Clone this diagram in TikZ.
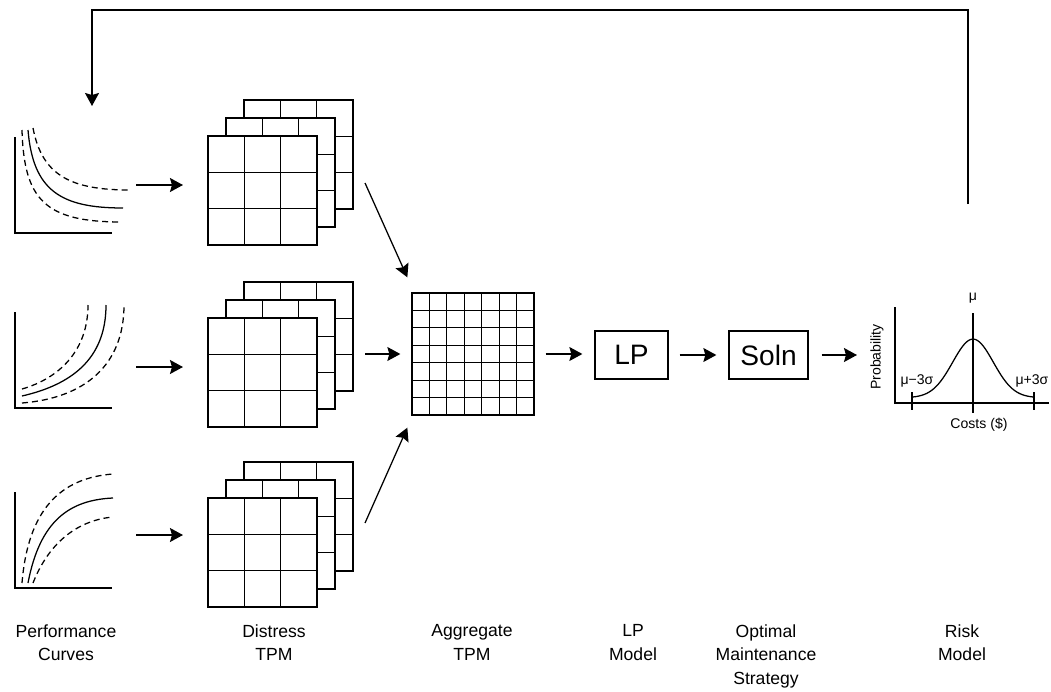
\documentclass[tikz,border=0pt]{standalone}
\usepackage{fontspec}
\setmainfont{Liberation Sans}
\usetikzlibrary{arrows.meta}
\newlength\pu
\setlength\pu{0.025cm}
\begin{document}
\begin{tikzpicture}[x=0.025cm,y=-0.025cm, line width=0.9pt,
  arr/.style={-{Stealth[length=0.325cm,width=0.35cm,inset=0.05cm]}},
  dsh/.style={dash pattern=on 0.15cm off 0.1cm},
  lbl/.style={font=\fontsize{12.5}{16.7}\selectfont, align=center, anchor=north, inner sep=0pt},
  small/.style={font=\fontsize{10}{12}\selectfont, inner sep=0pt},
  boxed/.style={draw, minimum height=1.2cm, inner sep=0pt, font=\fontsize{20}{24}\selectfont},
  region/.style={inner sep=0pt, outer sep=0pt, draw=none},
  pics/tpmlayer/.style={code={
    \fill[white] (0,0) rectangle (109,109);
    \foreach \k in {1,2}{
      \draw ({\k*109/3},0) -- ({\k*109/3},109);
      \draw (0,{\k*109/3}) -- (109,{\k*109/3});
    }
    \draw (0,0) rectangle (109,109);
  }}
]
\useasboundingbox (0,0) rectangle (1051,691);
\fill[white] (0,0) rectangle (1051,691);

% ---------- performance curves ----------
\node[region, minimum width=2.875cm, minimum height=2.4cm] (pc1) at (72.5,185) {};
\node[region, minimum width=2.875cm, minimum height=2.05cm] (pc2) at (72.5,367) {};
\node[region, minimum width=2.875cm, minimum height=2.65cm] (pc3) at (72.5,535) {};

\draw (15,137) -- (15,233) -- (112,233);
\draw (28,130) .. controls (33,190) and (60,208) .. (123,208);
\draw[dsh] (22,130) .. controls (24,200) and (45,222) .. (122,222);
\draw[dsh] (33,128) .. controls (42,175) and (70,190) .. (130,190);

\draw (15,312) -- (15,408) -- (112,408);
\draw (22,396) .. controls (70,385) and (106,360) .. (106,305);
\draw[dsh] (22,389) .. controls (60,378) and (88,350) .. (88,305);
\draw[dsh] (22,403) .. controls (85,398) and (124,365) .. (124,305);

\draw (15,492) -- (15,588) -- (112,588);
\draw (28,583) .. controls (40,520) and (70,500) .. (113,498);
\draw[dsh] (22,583) .. controls (28,510) and (60,478) .. (113,474);
\draw[dsh] (33,583) .. controls (50,540) and (80,520) .. (113,517);

% ---------- distress TPM stacks ----------
\foreach \yy in {136,318,498}{
  \pic at (244,\yy-36) {tpmlayer};
  \pic at (226,\yy-18) {tpmlayer};
  \pic at (208,\yy) {tpmlayer};
}
\node[region, minimum width=3.625cm, minimum height=3.65cm] (tpm1) at (280.5,172) {};
\node[region, minimum width=3.625cm, minimum height=3.625cm] (tpm2) at (280.5,354.5) {};
\node[region, minimum width=3.625cm, minimum height=3.625cm] (tpm3) at (280.5,534.5) {};

% ---------- aggregate TPM ----------
\node[draw, minimum size=3.05cm, inner sep=0pt] (agg) at (473,354) {};
\foreach \k in {1,...,6}{
  \draw ({412+\k*122/7},293) -- ({412+\k*122/7},415);
  \draw (412,{293+\k*122/7}) -- (534,{293+\k*122/7});
}

% ---------- LP and Soln ----------
\node[boxed, minimum width=1.825cm] (lp) at (631.5,355) {LP};
\node[boxed, minimum width=1.975cm] (soln) at (768.5,355) {Soln};

% ---------- risk model ----------
\node[region, minimum width=4.475cm, minimum height=3.5cm] (risk) at (959.5,360) {};
\draw (895,307) -- (895,403) -- (1049,403);
\draw (973,313) -- (973,413);
\draw (912,392) -- (912,410);
\draw (1034,392) -- (1034,410);
\draw plot[domain=912:1034, samples=80, smooth] (\x, {397.7 - 58.6*exp(-((\x-973)*(\x-973))/824)});
\node[small] (mu) at (973,298) {μ};
\node[small] (lo) at (917,381) {μ−3σ};
\node[small] (hi) at (1032,381) {μ+3σ};
\node[small] (costs) at (979,425) {Costs (\$)};
\node[small, rotate=90] (prob) at (877,357) {Probability};

% ---------- connectors ----------
\draw[arr, shorten <=0.15cm, shorten >=0.625cm] (pc1.east) -- (pc1.east -| tpm1.west);
\draw[arr, shorten <=0.15cm, shorten >=0.625cm] (pc2.east) -- (pc2.east -| tpm2.west);
\draw[arr, shorten <=0.15cm, shorten >=0.625cm] (pc3.east) -- (pc3.east -| tpm3.west);
\draw[arr] ([xshift=0.3cm,yshift=-0.275cm]tpm1.east) -- ([xshift=-0.1cm,yshift=0.375cm]agg.north west);
\draw[arr] ([xshift=0.3cm,yshift=0.2875cm]tpm3.east) -- ([xshift=-0.1cm,yshift=-0.3cm]agg.south west);
\draw[arr, shorten <=0.3cm, shorten >=0.275cm] (tpm2.east |- agg.west) -- (agg.west);
\draw[arr, shorten <=0.275cm, shorten >=0.3cm] (agg.east) -- (agg.east -| lp.west);
\draw[arr, shorten <=0.275cm, shorten >=0.3cm] (lp.east) -- (soln.west);
\draw[arr, shorten <=0.325cm, shorten >=0.325cm] (soln.east) -- (soln.east -| risk.west);

\coordinate (fbs) at (968,204);
\coordinate (fbe) at (92,106);
\draw[arr] (fbs) -- ++(0,-194) -| (fbe);

% ---------- labels ----------
\node[lbl] (lab1) at (66,624) {Performance\\Curves};
\node[lbl] (lab2) at (274,624) {Distress\\TPM};
\node[lbl] (lab3) at (472,624) {Aggregate\\TPM};
\node[lbl] (lab4) at (633,624) {LP\\Model};
\node[lbl] (lab5) at (766,624) {Optimal\\Maintenance\\Strategy};
\node[lbl] (lab6) at (962,624) {Risk\\Model};
\end{tikzpicture}
\end{document}
